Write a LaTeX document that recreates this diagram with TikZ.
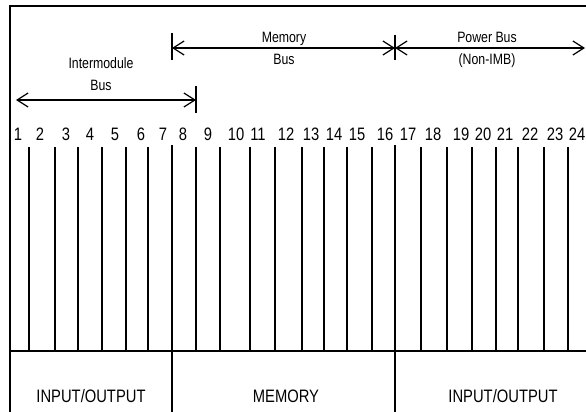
\documentclass[tikz,border=0pt]{standalone}
\usepackage{fontspec}
\setmainfont{Liberation Sans}[FakeStretch=0.82]
\usetikzlibrary{arrows.meta}

\begin{document}
\begin{tikzpicture}[x=1pt, y=-1pt,
    frame/.style={draw, line width=1.5pt},
    slot/.style={draw, line width=1.3pt},
    tick/.style={draw, line width=1.3pt},
    busarrow/.style={draw, line width=1.2pt, {Straight Barb[length=11pt,width=14pt]}-{Straight Barb[length=11pt,width=14pt]}},
    buslabel/.style={font=\fontsize{15}{17}\selectfont, inner sep=0pt, anchor=base},
    pinno/.style={font=\fontsize{18}{20}\selectfont, inner sep=0pt, anchor=base},
    modlabel/.style={font=\fontsize{18}{20}\selectfont, inner sep=0pt, anchor=base}]
    \useasboundingbox (0,0) rectangle (586,412);
    % outline of the backplane
    \draw [frame] (10,412) -- (10,6) -- (586,6);
    \draw [frame] (10,351) -- (586,351);
    \draw [frame] (172,145) -- (172,412);
    \draw [frame] (395,145) -- (395,412);
    % slot separators
    \foreach \x in {29,55,78,102,126,148,196,220,250,275,302,324,347,372,421,447,472,496,518,544,568}
        \draw [slot] (\x,147) -- (\x,351);
    % slot numbers
    \foreach \x [count=\i] in {18,40,66,90,115,141,163,183,208,236,258,286,311,334,357,385,408,433,461,483,505,530,555,577}
        \node [pinno] (n\i) at (\x,140) {\i};
    % buses
    \coordinate (imbL) at (16,100);
    \coordinate (imbR) at (196,100);
    \coordinate (memL) at (172,48);
    \coordinate (memR) at (395,48);
    \coordinate (pwrR) at (585,48);
    \path [busarrow] (imbL) -- (imbR);
    \path [busarrow] (memL) -- (memR);
    \path [busarrow] (memR) -- (pwrR);
    \draw [tick] (196,86) -- (196,113);
    \draw [tick] (172,33) -- (172,60);
    \draw [tick] (395,35) -- (395,60);
    \node [buslabel] (imbtxt) at (101,68) {Intermodule};
    \node [buslabel] (imbbus) at (101,90) {Bus};
    \node [buslabel] (memtxt) at (284,43) {Memory};
    \node [buslabel] (membus) at (284,65) {Bus};
    \node [buslabel] (pwrtxt) at (487,43) {Power Bus};
    \node [buslabel] (pwrsub) at (487,64) {(Non-IMB)};
    % module areas
    \node [modlabel] (io1) at (91,402) {INPUT/OUTPUT};
    \node [modlabel] (mem) at (286,402) {MEMORY};
    \node [modlabel] (io2) at (503,402) {INPUT/OUTPUT};
\end{tikzpicture}
\end{document}
